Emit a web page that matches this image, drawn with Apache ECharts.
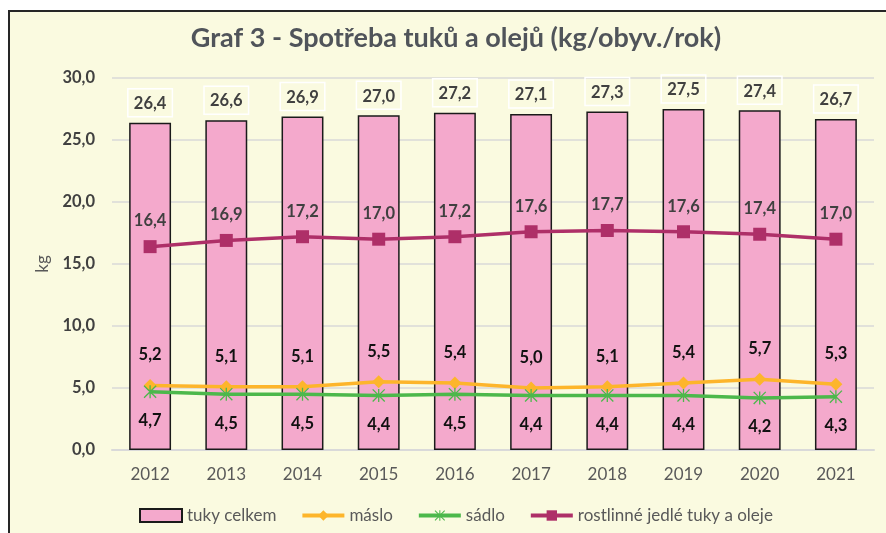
<!DOCTYPE html>
<html>
<head>
<meta charset="utf-8">
<script src="https://cdn.jsdelivr.net/npm/echarts@6/dist/echarts.min.js"></script>
<style>
  html, body { margin: 0; padding: 0; background: #fff; }
  #chart { width: 886px; height: 533px; }
</style>
</head>
<body>
<div id="chart"></div>
<script>
const years = ['2012', '2013', '2014', '2015', '2016', '2017', '2018', '2019', '2020', '2021']
const tukyCelkem = [26.4, 26.6, 26.9, 27.0, 27.2, 27.1, 27.3, 27.5, 27.4, 26.7]
const maslo = [5.2, 5.1, 5.1, 5.5, 5.4, 5.0, 5.1, 5.4, 5.7, 5.3]
const sadlo = [4.7, 4.5, 4.5, 4.4, 4.5, 4.4, 4.4, 4.4, 4.2, 4.3]
const rostlinne = [16.4, 16.9, 17.2, 17.0, 17.2, 17.6, 17.7, 17.6, 17.4, 17.0]

const font = 'Lato, "Noto Sans", sans-serif'
const fmt = v => v.toFixed(1).replace('.', ',')
// hvezdicka (X + svisla cara) jako u Excelu
const starPath = 'path://M4.5,0 L5.5,0 L5.5,10 L4.5,10 Z M0,0.7 L0.7,0 L10,9.3 L9.3,10 Z M9.3,0 L10,0.7 L0.7,10 L0,9.3 Z'

const chart = echarts.init(document.getElementById('chart'))
const option = {
    backgroundColor: '#fff',
    textStyle: { fontFamily: font },
    graphic: [
        {
            type: 'rect',
            z: -10,
            shape: { x: 9, y: 11, width: 1000, height: 1000 },
            style: { fill: '#FAFAE0', stroke: '#262626', lineWidth: 2 }
        },
        {
            type: 'text',
            x: 456,
            y: 38,
            style: {
                text: 'Graf 3 - Spotřeba tuků a olejů (kg/obyv./rok)',
                align: 'center',
                verticalAlign: 'middle',
                fill: '#50545A',
                font: 'bold 27px ' + font
            }
        }
    ],
    grid: { left: 112, right: 12, top: 78, bottom: 83 },
    legend: {
        left: 134,
        top: 502,
        itemWidth: 42,
        itemHeight: 13,
        itemGap: 24,
        lineStyle: { width: 4 },
        textStyle: { fontSize: 17, color: '#595959', fontFamily: font },
        data: [
            { name: 'tuky celkem', icon: 'rect' },
            'máslo',
            'sádlo',
            'rostlinné jedlé tuky a oleje'
        ]
    },
    xAxis: {
        type: 'category',
        data: years,
        axisLine: { lineStyle: { color: '#D9D9D9', width: 2 } },
        axisTick: { show: false },
        axisLabel: { color: '#595959', fontSize: 17, margin: 16 }
    },
    yAxis: {
        type: 'value',
        min: 0,
        max: 30,
        interval: 5,
        name: 'kg',
        nameLocation: 'middle',
        nameGap: 61,
        nameTextStyle: { color: '#595959', fontSize: 17 },
        axisLine: { show: false },
        axisTick: { show: false },
        splitLine: { lineStyle: { color: '#D9D9D9', width: 1.5 } },
        axisLabel: {
            color: '#404040', fontSize: 16.5, fontWeight: 'bold', margin: 17,
            formatter: v => fmt(v)
        }
    },
    series: [
        {
            name: 'tuky celkem',
            type: 'bar',
            data: tukyCelkem,
            barWidth: '55%',
            itemStyle: { color: '#F4A9CC', borderColor: '#1a1a1a', borderWidth: 1.5 },
            label: {
                show: true,
                position: 'top',
                distance: 6,
                color: '#404040',
                fontSize: 16.5,
                fontWeight: 'bold',
                lineHeight: 18,
                borderColor: '#fff',
                borderWidth: 1.5,
                padding: [6, 6, 4, 6],
                formatter: p => fmt(p.value)
            }
        },
        {
            name: 'máslo',
            type: 'line',
            data: maslo,
            symbol: 'diamond',
            symbolSize: 13,
            itemStyle: { color: '#FDB52B' },
            lineStyle: { color: '#FDB52B', width: 3.5 },
            label: {
                show: true, position: 'top', distance: 15.5,
                color: '#111', fontSize: 16.5, fontWeight: 'bold',
                formatter: p => fmt(p.value)
            },
            z: 3
        },
        {
            name: 'sádlo',
            type: 'line',
            data: sadlo,
            symbol: starPath,
            symbolSize: 13,
            itemStyle: { color: '#4CB84B' },
            lineStyle: { color: '#4CB84B', width: 3.5 },
            label: {
                show: true, position: 'bottom', distance: 14,
                color: '#111', fontSize: 16.5, fontWeight: 'bold',
                formatter: p => fmt(p.value)
            },
            z: 4
        },
        {
            name: 'rostlinné jedlé tuky a oleje',
            type: 'line',
            data: rostlinne,
            symbol: 'rect',
            symbolSize: 13,
            itemStyle: { color: '#AE2F68' },
            lineStyle: { color: '#AE2F68', width: 3.5 },
            label: {
                show: true, position: 'top', distance: 10.5,
                color: '#404040', fontSize: 16.5, fontWeight: 'bold',
                formatter: p => fmt(p.value)
            },
            z: 5
        }
    ]
}
chart.setOption(option)
</script>
</body>
</html>
